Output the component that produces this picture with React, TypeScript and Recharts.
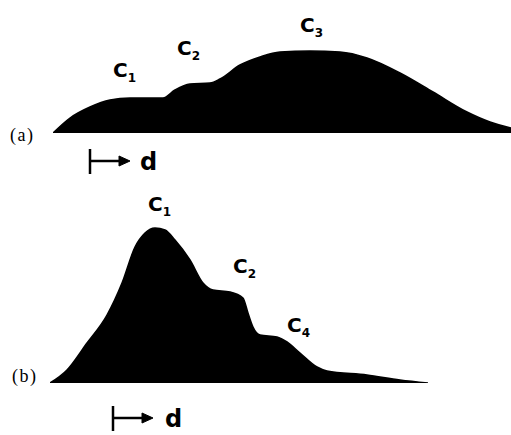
import React from 'react';
import { AreaChart, Area, XAxis, YAxis } from 'recharts';

// profile (a): distance along d, height above baseline
const distA = [0, 17, 37, 57, 77, 110, 122, 137, 157, 167, 187, 207, 227, 257, 287, 314, 347, 380, 414, 437, 458];
const heightA = [0, 15, 26, 33, 35, 35, 43, 49, 50, 54, 68, 76, 81, 82, 81, 75, 60, 41, 21, 11, 5];

// profile (b)
const distB = [0, 17, 37, 57, 72, 85, 95, 105, 115, 125, 140, 153, 163, 180, 193, 198, 203, 210, 227, 237, 250, 267, 277, 317, 350, 378];
const heightB = [0, 13, 40, 68, 100, 136, 150, 155, 153, 143, 123, 100, 93, 91, 85, 70, 56, 48, 46, 41, 30, 16, 12, 8, 3, 0];

const labelsA = [
  { name: 'C', sub: '1', x: 113, y: 77 },
  { name: 'C', sub: '2', x: 177, y: 55 },
  { name: 'C', sub: '3', x: 300, y: 32 },
];
const labelsB = [
  { name: 'C', sub: '1', x: 148, y: 211 },
  { name: 'C', sub: '2', x: 233, y: 273 },
  { name: 'C', sub: '4', x: 287, y: 332 },
];

const dataA = distA.map((d, i) => ({ d, h: heightA[i] }));
const dataB = distB.map((d, i) => ({ d, h: heightB[i] }));

const Profile = ({ data, left, top, width, height }: any) => (
  <div style={{ position: 'absolute', left, top }}>
    <AreaChart width={width} height={height} data={data} margin={{ top: 0, right: 0, bottom: 0, left: 0 }}>
      <XAxis dataKey="d" type="number" domain={[0, width]} hide />
      <YAxis type="number" domain={[0, height]} hide />
      <Area
        type="monotone"
        dataKey="h"
        stroke="#000"
        strokeWidth={1.5}
        fill="#000"
        fillOpacity={1}
        isAnimationActive={false}
        dot={false}
        activeDot={false}
      />
    </AreaChart>
  </div>
);

const Arrow = ({ x, y }: { x: number; y: number }) => (
  <g stroke="#000" strokeWidth={2.5} fill="#000">
    <line x1={x} y1={y - 12} x2={x} y2={y + 13} />
    <line x1={x} y1={y} x2={x + 32} y2={y} />
    <polygon points={`${x + 29},${y - 5} ${x + 40},${y} ${x + 29},${y + 5}`} strokeWidth={1} />
  </g>
);

export default function App() {
  const cLabel = (l: any, i: number) => (
    <text key={i} x={l.x} y={l.y} fontFamily="DejaVu Sans" fontWeight="bold" fontSize={20} fill="#000">
      {l.name}
      <tspan fontSize={12} dy={5}>{l.sub}</tspan>
    </text>
  );
  return (
    <div style={{ position: 'absolute', left: 0, top: 0, width: 511, height: 435, background: '#fff', overflow: 'hidden' }}>
      <Profile data={dataA} left={53} top={33} width={458} height={100} />
      <Profile data={dataB} left={50} top={213} width={378} height={170} />
      <svg width={511} height={435} style={{ position: 'absolute', left: 0, top: 0, pointerEvents: 'none' }}>
        {labelsA.map(cLabel)}
        {labelsB.map(cLabel)}
        <text x={10} y={141} fontFamily="Liberation Serif" fontSize={18} letterSpacing={1.5} fill="#000">(a)</text>
        <text x={12} y={382} fontFamily="Liberation Serif" fontSize={18} letterSpacing={1.5} fill="#000">(b)</text>
        <Arrow x={90} y={161} />
        <text x={140} y={170} fontFamily="DejaVu Sans" fontWeight="bold" fontSize={24} fill="#000">d</text>
        <Arrow x={113} y={418} />
        <text x={165} y={427} fontFamily="DejaVu Sans" fontWeight="bold" fontSize={24} fill="#000">d</text>
      </svg>
    </div>
  );
}
